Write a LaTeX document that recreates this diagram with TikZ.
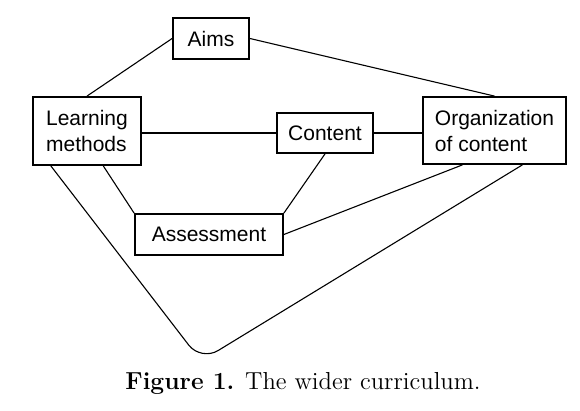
\documentclass[tikz,border=0pt]{standalone}
\usepackage{fontspec}
\setsansfont{Liberation Sans}
\begin{document}
\begin{tikzpicture}[x=0.5pt, y=-0.5pt,
    box/.style={draw, line width=0.9pt, inner sep=0pt, font=\sffamily\fontsize{10.5}{13}\selectfont},
    link/.style={line width=0.55pt}]

    \useasboundingbox (0,0) rectangle (580,411);

    % Boxes
    \node[box, minimum width=38pt, minimum height=20.5pt] (aims) at (211,38.5) {Aims};
    \node[box, align=left, minimum width=54pt, minimum height=34pt] (methods) at (87,131) {Learning\\methods};
    \node[box, minimum width=48pt, minimum height=20pt] (content) at (325,133) {Content};
    \node[box, align=left, minimum width=71.5pt, minimum height=33.5pt] (organization) at (494.5,130.5) {Organization\\of content};
    \node[box, minimum width=74pt, minimum height=20.5pt] (assessment) at (209,234.5) {Assessment};

    % Links
    \draw[link] (methods.north) -- (aims.west);
    \draw[link] (aims.east) -- (organization.north);
    \draw[link] (methods.east |- content.west) -- (content.west);
    \draw[link] (content.east) -- (organization.west |- content.east);
    \draw[link] (methods.-65) -- (assessment.north west);
    \draw[link] (content.south) -- (assessment.north east);
    \draw[link] (organization.-133) -- (assessment.east);

    % The long loop underneath
    \coordinate (bend) at (201,361);
    \draw[link, rounded corners=10pt] (methods.-136) -- (bend) -- (organization.-51);

    % Caption
    \node[font=\fontsize{12.3}{14}\selectfont] (caption) at (303,383) {\textbf{Figure 1.} The wider curriculum.};

\end{tikzpicture}
\end{document}
